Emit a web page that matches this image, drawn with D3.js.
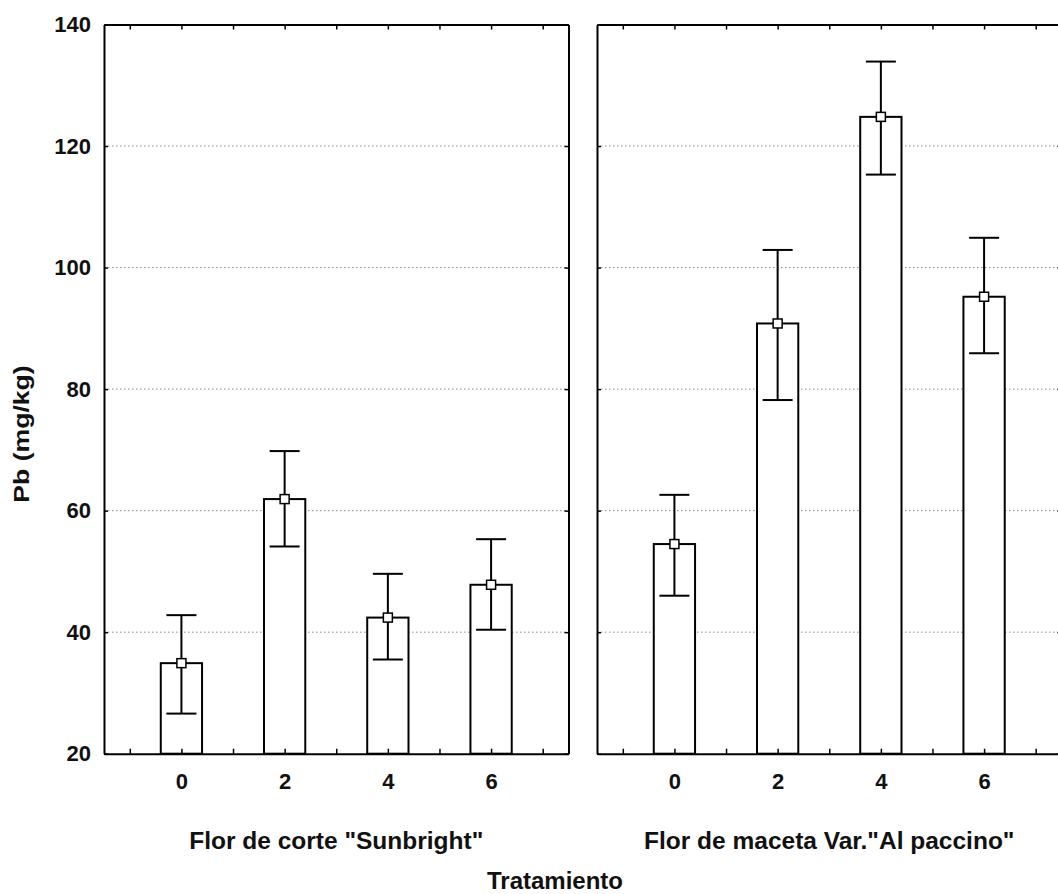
<!DOCTYPE html>
<html>
<head>
<meta charset="utf-8">
<script src="https://cdn.jsdelivr.net/npm/d3@7"></script>
<style>
  body { margin: 0; background: #fff; }
  svg { display: block; font-family: "Liberation Sans", Arial, sans-serif; font-weight: bold; }
  .axis path, .axis line { stroke: #000; }
  .axis path { stroke-width: 2; }
  .axis line { stroke-width: 1.5; }
  .axis text { font-size: 22px; fill: #111; font-family: "Liberation Sans", Arial, sans-serif; font-weight: bold; }
</style>
</head>
<body>
<div id="chart"></div>
<script>
// data
var treatments = [0, 2, 4, 6];
var groups = ["Flor de corte \"Sunbright\"", "Flor de maceta Var.\"Al paccino\""];
var meanCorte = [34.9, 61.9, 42.4, 47.8];
var lowCorte  = [26.6, 54.1, 35.5, 40.4];
var highCorte = [42.8, 69.8, 49.6, 55.3];
var meanMaceta = [54.5, 90.8, 124.8, 95.2];
var lowMaceta  = [46.0, 78.2, 115.3, 85.9];
var highMaceta = [62.6, 102.9, 133.9, 104.9];
var yTicks = [20, 40, 60, 80, 100, 120, 140];

var width = 1058;
var height = 894;

var svg = d3.select("#chart")
    .append("svg")
    .attr("width", width)
    .attr("height", height);

// y scale shared by both panels
var y = d3.scaleLinear()
    .domain([20, 140])
    .range([753.7, 24.5]);

// each panel: left and right pixel edge
var panels = [
    { name: groups[0], x0: 104, x1: 568.5, mean: meanCorte, low: lowCorte, high: highCorte, labels: true },
    { name: groups[1], x0: 597, x1: 1061.5, mean: meanMaceta, low: lowMaceta, high: highMaceta, labels: false }
];

var minorTicks = d3.range(-1, 8);

panels.forEach(function(p) {
    var x = d3.scaleLinear()
        .domain([-1.5, 7.5])
        .range([p.x0, p.x1]);

    var g = svg.append("g");

    // dotted grid lines
    g.selectAll(".grid")
        .data(yTicks.filter(function(d) { return d > 20 && d < 140; }))
        .enter().append("line")
        .attr("class", "grid")
        .attr("x1", p.x0)
        .attr("x2", p.x1)
        .attr("y1", function(d) { return y(d); })
        .attr("y2", function(d) { return y(d); })
        .style("stroke", "#8a8a8a")
        .style("stroke-width", 1)
        .style("stroke-dasharray", "1.5,2.5");

    var rows = treatments.map(function(t, i) {
        return { t: t, mean: p.mean[i], low: p.low[i], high: p.high[i] };
    });
    var barW = x(0.4) - x(-0.4);

    // bars
    g.selectAll(".bar")
        .data(rows)
        .enter().append("rect")
        .attr("class", "bar")
        .attr("x", function(d) { return x(d.t) - barW / 2; })
        .attr("width", barW)
        .attr("y", function(d) { return y(d.mean); })
        .attr("height", function(d) { return y(20) - y(d.mean); })
        .style("fill", "#fff")
        .style("stroke", "#000")
        .style("stroke-width", 2);

    // axes (ticks point inward, like the original)
    g.append("g")
        .attr("class", "axis")
        .attr("transform", "translate(0," + y(20) + ")")
        .call(d3.axisBottom(x)
            .tickValues(minorTicks)
            .tickSizeInner(-5)
            .tickSizeOuter(0)
            .tickPadding(20)
            .tickFormat(function(d) { return treatments.indexOf(d) >= 0 ? d : ""; }));

    g.append("g")
        .attr("class", "axis")
        .attr("transform", "translate(0," + y(140) + ")")
        .call(d3.axisTop(x)
            .tickValues(minorTicks)
            .tickSizeInner(-5)
            .tickSizeOuter(0)
            .tickFormat(""));

    g.append("g")
        .attr("class", "axis")
        .attr("transform", "translate(" + p.x0 + ",0)")
        .call(d3.axisLeft(y)
            .tickValues(yTicks)
            .tickSizeInner(-4)
            .tickSizeOuter(0)
            .tickPadding(13)
            .tickFormat(p.labels ? d3.format("d") : ""));

    g.append("g")
        .attr("class", "axis")
        .attr("transform", "translate(" + p.x1 + ",0)")
        .call(d3.axisRight(y)
            .tickValues(yTicks)
            .tickSizeInner(-4)
            .tickSizeOuter(0)
            .tickFormat(""));

    // error bars
    var capW = 15;
    var err = g.selectAll(".err")
        .data(rows)
        .enter().append("g")
        .attr("class", "err")
        .style("stroke", "#000")
        .style("stroke-width", 2);

    err.append("line")
        .attr("x1", function(d) { return x(d.t); })
        .attr("x2", function(d) { return x(d.t); })
        .attr("y1", function(d) { return y(d.low); })
        .attr("y2", function(d) { return y(d.high); });
    err.append("line")
        .attr("x1", function(d) { return x(d.t) - capW; })
        .attr("x2", function(d) { return x(d.t) + capW; })
        .attr("y1", function(d) { return y(d.high); })
        .attr("y2", function(d) { return y(d.high); });
    err.append("line")
        .attr("x1", function(d) { return x(d.t) - capW; })
        .attr("x2", function(d) { return x(d.t) + capW; })
        .attr("y1", function(d) { return y(d.low); })
        .attr("y2", function(d) { return y(d.low); });

    // mean markers
    err.append("rect")
        .attr("x", function(d) { return x(d.t) - 4.5; })
        .attr("y", function(d) { return y(d.mean) - 4.5; })
        .attr("width", 9)
        .attr("height", 9)
        .style("fill", "#fff")
        .style("stroke-width", 1.5);

    // panel title under the axis
    svg.append("text")
        .attr("x", x(3))
        .attr("y", 849)
        .attr("text-anchor", "middle")
        .style("font-size", "24.5px")
        .style("fill", "#111")
        .text(p.name);
});

svg.append("text")
    .attr("x", 555)
    .attr("y", 889)
    .attr("text-anchor", "middle")
    .style("font-size", "24px")
    .style("fill", "#111")
    .text("Tratamiento");

// y label is drawn a bit stretched along its length, as in the original
svg.append("text")
    .attr("transform", "translate(29,434) rotate(-90) scale(1.21,1)")
    .attr("text-anchor", "middle")
    .style("font-size", "22px")
    .style("fill", "#111")
    .text("Pb (mg/kg)");
</script>
</body>
</html>
